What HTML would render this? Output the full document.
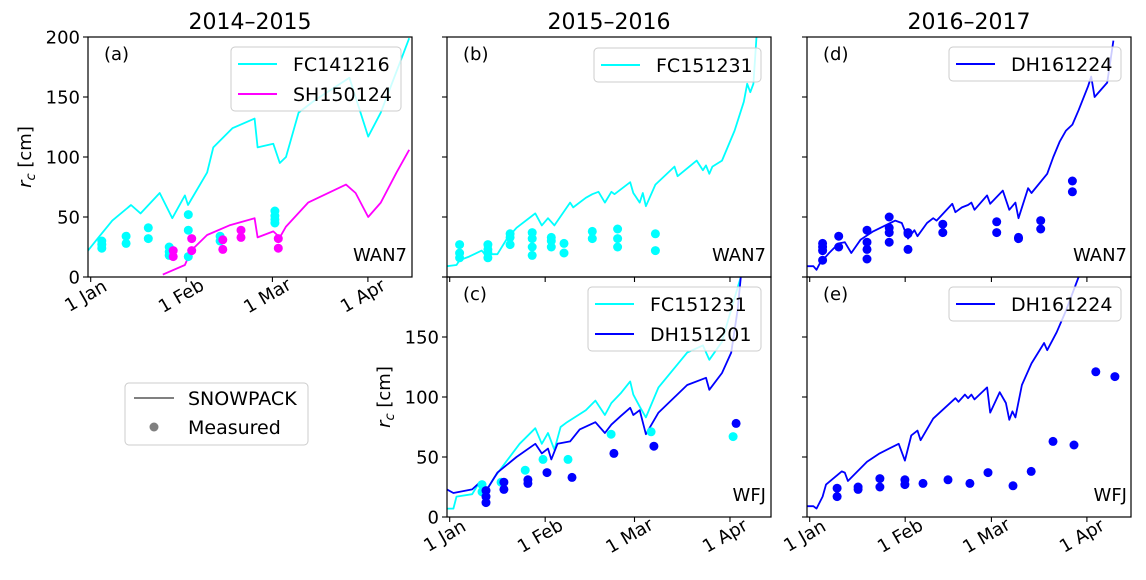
<!DOCTYPE html>
<html><head><meta charset="utf-8"><style>
html,body{margin:0;padding:0;background:#fff;}
svg{display:block;font-family:"DejaVu Sans","Liberation Sans",sans-serif;}
</style></head><body>
<svg id="chart" width="1146" height="580" viewBox="0 0 1146 580" xmlns="http://www.w3.org/2000/svg">
<defs>
<clipPath id="clipA"><rect x="88" y="37" width="323" height="240"/></clipPath>
<clipPath id="clipB"><rect x="447" y="37" width="324" height="240"/></clipPath>
<clipPath id="clipD"><rect x="807" y="37" width="324" height="240"/></clipPath>
<clipPath id="clipC"><rect x="447" y="277" width="324" height="240"/></clipPath>
<clipPath id="clipE"><rect x="807" y="277" width="324" height="240"/></clipPath>
</defs>
<g id="root"></g>
</svg>
<script>
// ---- data (x = days since 1 Jan, y = r_c in cm) ----
const tickDays1415 = [0, 31, 59, 90];
const tickDays1516 = [0, 31, 60, 91];
const tickDays1617 = [0, 31, 59, 90];
const tickLabelsX = ["1 Jan", "1 Feb", "1 Mar", "1 Apr"];
const tickValsY = [0, 50, 100, 150, 200];
const tickLabelsYTop = ["0", "50", "100", "150", "200"];
const tickLabelsYBot = ["0", "50", "100", "150", ""];

// (a) 2014-2015 WAN7
const aFcDays = [-1.2,1.9,7,13.1,16.2,22.4,26.5,30.6,31.6,37.8,39.8,46,53.2,54.2,59.3,61.4,63.4,67.5,72.6,84,90.1,94.2,100.3,103.4];
const aFcVals = [21,31,47,60,53,70,49,68,60,87,108,124,132,108,111,95,100,137,147,166,117,137,178,199];
const aShDays = [23.4,30.6,32.6,37.8,45,53.2,54.2,59.3,61.4,63.4,70.6,82.9,86,90.1,94.2,99.3,103.4];
const aShVals = [2,10,22,35,43,49,33,38,33,42,62,77,70,50,62,87,106];
const aFcPtDays = [3.6,3.6,3.6,11.5,11.5,18.7,18.7,25.5,25.5,25.5,31.7,31.7,31.7,42,42,59.8,59.8,59.8,59.8];
const aFcPtVals = [24,27,30,28,34,32,41,18,21,25,17,39,52,30,34,45,48,51,55];
const aShPtDays = [26.8,26.8,32.8,32.8,42.9,42.9,48.8,48.8,60.9,60.9];
const aShPtVals = [22,17,32,22,31,23,39,33,32,24];

// (b) 2015-2016 WAN7
const bFcDays = [-0.9,2.2,3.2,6.3,10.4,11.4,15.5,18.6,21.7,27.8,29.9,31.9,34,39.1,40.1,44.2,46.3,48.3,50.4,52.5,53.5,58.6,59.6,61.7,62.7,63.7,66.8,73,74,80.2,82.2,83.2,84.3,85.3,88.4,92.5,95.5,96.6,97.6,98.6,99.6];
const bFcVals = [9,10,14,17,22,19,19,32,41,53,43,49,43,62,58,66,69,71,62,71,69,79,70,62,70,59,77,92,84,97,89,93,86,92,97,122,146,161,154,161,200];
const bPtDays = [3.2,3.2,3.2,12.4,12.4,12.4,12.4,19.6,19.6,19.6,26.8,26.8,26.8,26.8,33,33,33,37.1,37.1,46.3,46.3,54.5,54.5,54.5,66.8,66.8];
const bPtVals = [27,20,16,27,23,20,16,36,33,27,37,32,25,18,33,30,25,28,20,38,32,40,32,25,36,22];

// (d) 2016-2017 WAN7
const dDhDays = [-0.9,1.2,2.2,3.2,6.3,9.4,11.4,13.5,16.5,20.6,27.8,29.9,31.9,34,35,38.1,40.1,41.2,46.3,47.3,49.4,51.4,52.5,53.5,57.6,58.6,62.7,64.8,66.8,67.8,70.9,72,77.1,79.1,81.2,83.2,85.3,87.3,90.4,91.4,92.5,96.6,98.6];
const dDhVals = [9,9,6,11,20,28,29,20,31,38,47,45,32,39,34,45,49,47,61,54,58,60,62,56,68,61,72,56,62,49,74,70,86,100,113,122,127,139,159,167,150,162,197];
const dPtDays = [4.2,4.2,4.2,4.2,9.4,9.4,18.6,18.6,18.6,18.6,25.8,25.8,25.8,25.8,31.9,31.9,31.9,43.2,43.2,60.7,60.7,67.8,67.8,75,75,85.3,85.3];
const dPtVals = [28,25,22,14,34,25,39,29,23,15,50,41,37,29,37,36,23,44,37,46,37,33,32,47,40,80,71];

// (c) 2015-2016 WFJ
const cFcDays = [-0.9,1.2,2.2,7.3,9.4,11.4,14.5,22.7,27.8,29.9,31.9,34,36,38.1,44.2,47.3,50.4,52.5,55.5,58.6,59.6,61.7,63.7,67.8,77.1,82.2,84.3,88.4,91.4,94.5];
const cFcVals = [7,7,17,19,28,20,33,61,74,61,70,56,75,79,89,97,85,95,103,113,102,92,83,108,137,143,131,146,173,200];
const cDhDays = [-0.9,1.2,7.3,9.4,11.4,15.5,21.7,27.8,29.9,31.9,33,35,39.1,42.2,47.3,50.4,52.5,55.5,58.6,59.6,61.7,63.7,67.8,77.1,83.2,84.3,88.4,91.4,93.5,94.5];
const cDhVals = [23,20,23,28,20,37,50,61,53,57,48,61,63,73,79,70,77,84,91,85,89,69,87,110,116,106,120,137,173,200];
const cFcPtDays = [10.5,10.5,16.7,24.5,30.3,38.4,52.4,65.4,92];
const cFcPtVals = [27,21,29,39,48,48,69,71,67];
const cDhPtDays = [11.8,11.8,11.8,17.6,17.6,25.4,25.4,31.6,39.7,53.3,66.3,93];
const cDhPtVals = [22,17,12,29,23,31,28,37,33,53,59,78];

// (e) 2016-2017 WFJ
const eDhDays = [-0.9,1.2,2.2,4.2,5.3,10.4,11.4,12.4,18.6,22.7,28.9,30.9,33,35,36,40.1,47.3,48.3,50.4,51.4,52.5,53.5,57.6,58.6,61.7,63.7,64.8,65.8,66.8,68.9,72,76.1,77.1,80.2,83.2,87.3];
const eDhVals = [9,9,7,17,27,38,37,30,46,53,61,47,68,72,64,82,99,96,102,99,102,98,108,87,104,95,81,88,83,110,128,145,139,154,172,200];
const ePtDays = [8.9,8.9,15.7,15.7,22.8,22.8,30.9,30.9,36.8,44.9,52,57.9,66,71.9,79,85.8,92.9,99.1];
const ePtVals = [24,17,25,23,32,25,31,27,28,31,28,37,26,38,63,60,121,117];

// ---- rendering ----
const NS = "http://www.w3.org/2000/svg";
const root = document.getElementById("root");
const PXD = 3.08, PXV = 1.2;
function mk(tag, attrs, parent) {
  const e = document.createElementNS(NS, tag);
  for (const k in attrs) e.setAttribute(k, attrs[k]);
  (parent || root).appendChild(e);
  return e;
}
function panel(left, top, clip) {
  const x0 = left + 2.7;
  return {
    left: left, top: top, w: 324, h: 240, clip: clip,
    sx: d => x0 + d * PXD,
    sy: v => top + 240 - v * PXV
  };
}
const P = {
  a: panel(88, 37, "clipA"),
  b: panel(447, 37, "clipB"),
  d: panel(807, 37, "clipD"),
  c: panel(447, 277, "clipC"),
  e: panel(807, 277, "clipE")
};

function drawLine(p, days, vals, color, name) {
  let dstr = "";
  for (let i = 0; i < days.length; i++) dstr += (i ? "L" : "M") + p.sx(days[i]).toFixed(1) + "," + p.sy(vals[i]).toFixed(1);
  const el = mk("path", {d: dstr, fill: "none", stroke: color, "stroke-width": 1.8, "stroke-linejoin": "round", "clip-path": "url(#" + p.clip + ")"});
  
  
}
function drawPts(p, days, vals, color, name) {
  const g = mk("g", {"clip-path": "url(#" + p.clip + ")"});
  
  
  for (let i = 0; i < days.length; i++) {
    const c = mk("circle", {cx: p.sx(days[i]).toFixed(1), cy: p.sy(vals[i]).toFixed(1), r: 4.5, fill: color}, g);
    
    
  }
}
function frame(p, name) {
  const r = mk("rect", {x: p.left, y: p.top, width: p.w, height: p.h, fill: "none", stroke: "#000", "stroke-width": 1.2});
  
  
}
function yAxis(p, labels, name) {
  const g = mk("g", {});
  
  
  for (let i = 0; i < tickValsY.length; i++) {
    const y = p.sy(tickValsY[i]);
    mk("line", {x1: p.left - 5, x2: p.left, y1: y, y2: y, stroke: "#000", "stroke-width": 1.1}, g);
    if (labels && labels[i]) {
      const t = mk("text", {x: p.left - 8, y: y + 6.5, "text-anchor": "end", "font-size": 18}, g);
      t.textContent = labels[i];
    }
  }
}
function xAxis(p, ticks, labels, name) {
  const g = mk("g", {});
  
  
  const yb = p.top + p.h;
  for (let i = 0; i < ticks.length; i++) {
    const x = p.sx(ticks[i]);
    mk("line", {x1: x, x2: x, y1: yb, y2: yb + 5, stroke: "#000", "stroke-width": 1.1}, g);
    if (labels) {
      const tx = x - 2, ty = yb + 24;
      const t = mk("text", {x: tx, y: ty, "text-anchor": "middle", "font-size": 18, transform: "rotate(-30 " + tx + " " + ty + ")"}, g);
      t.textContent = labels[i];
    }
  }
}
function txt(x, y, s, size, anchor, name) {
  const t = mk("text", {x: x, y: y, "font-size": size, "text-anchor": anchor || "start"});
  t.textContent = s;
  
  
  return t;
}
function legend(x, y, w, entries, name) {
  const g = mk("g", {});
  
  
  const h = 4 + entries.length * 30;
  mk("rect", {x: x, y: y, width: w, height: h, rx: 4, fill: "rgba(255,255,255,0.8)", stroke: "#cccccc", "stroke-width": 1}, g);
  entries.forEach((en, i) => {
    const cy = y + 17 + i * 30;
    const ln = mk("line", {x1: x + 7, x2: x + 46, y1: cy, y2: cy, stroke: en[1], "stroke-width": 2}, g);
    
    
    const t = mk("text", {x: x + 62, y: cy + 7, "font-size": 19}, g);
    t.textContent = en[0];
    
    
  });
}

// panel (a)
drawLine(P.a, aFcDays, aFcVals, "#00ffff", "fc141216-line");
drawLine(P.a, aShDays, aShVals, "#ff00ff", "sh150124-line");
drawPts(P.a, aFcPtDays, aFcPtVals, "#00ffff", "fc141216-measured");
drawPts(P.a, aShPtDays, aShPtVals, "#ff00ff", "sh150124-measured");
frame(P.a, "panel-a");
yAxis(P.a, tickLabelsYTop, "panel-a-y-axis");
xAxis(P.a, tickDays1415, tickLabelsX, "panel-a-x-axis");
legend(231, 47, 170, [["FC141216", "#00ffff"], ["SH150124", "#ff00ff"]], "panel-a-legend");
txt(104, 60, "(a)", 18, "start", "panel-a-label");
txt(407, 261, "WAN7", 18, "end", "panel-a-site");

// panel (b)
drawLine(P.b, bFcDays, bFcVals, "#00ffff", "fc151231-line");
drawPts(P.b, bPtDays, bPtVals, "#00ffff", "fc151231-measured");
frame(P.b, "panel-b");
yAxis(P.b, null, "panel-b-y-axis");
xAxis(P.b, tickDays1516, null, "panel-b-x-axis");
legend(594, 48, 167, [["FC151231", "#00ffff"]], "panel-b-legend");
txt(463, 60, "(b)", 18, "start", "panel-b-label");
txt(766, 261, "WAN7", 18, "end", "panel-b-site");

// panel (d)
drawLine(P.d, dDhDays, dDhVals, "#0000ff", "dh161224-line");
drawPts(P.d, dPtDays, dPtVals, "#0000ff", "dh161224-measured");
frame(P.d, "panel-d");
yAxis(P.d, null, "panel-d-y-axis");
xAxis(P.d, tickDays1617, null, "panel-d-x-axis");
legend(949, 47, 172, [["DH161224", "#0000ff"]], "panel-d-legend");
txt(823, 60, "(d)", 18, "start", "panel-d-label");
txt(1127, 261, "WAN7", 18, "end", "panel-d-site");

// panel (c)
drawLine(P.c, cFcDays, cFcVals, "#00ffff", "fc151231-wfj-line");
drawLine(P.c, cDhDays, cDhVals, "#0000ff", "dh151201-line");
drawPts(P.c, cFcPtDays, cFcPtVals, "#00ffff", "fc151231-wfj-measured");
drawPts(P.c, cDhPtDays, cDhPtVals, "#0000ff", "dh151201-measured");
frame(P.c, "panel-c");
yAxis(P.c, tickLabelsYBot, "panel-c-y-axis");
xAxis(P.c, tickDays1516, tickLabelsX, "panel-c-x-axis");
legend(588, 287, 173, [["FC151231", "#00ffff"], ["DH151201", "#0000ff"]], "panel-c-legend");
txt(463, 300, "(c)", 18, "start", "panel-c-label");
txt(766, 501, "WFJ", 18, "end", "panel-c-site");

// panel (e)
drawLine(P.e, eDhDays, eDhVals, "#0000ff", "dh161224-wfj-line");
drawPts(P.e, ePtDays, ePtVals, "#0000ff", "dh161224-wfj-measured");
frame(P.e, "panel-e");
yAxis(P.e, null, "panel-e-y-axis");
xAxis(P.e, tickDays1617, tickLabelsX, "panel-e-x-axis");
legend(949, 287, 172, [["DH161224", "#0000ff"]], "panel-e-legend");
txt(823, 300, "(e)", 18, "start", "panel-e-label");
txt(1127, 501, "WFJ", 18, "end", "panel-e-site");

// titles
txt(250, 29, "2014–2015", 22, "middle", "title-2014-2015");
txt(609, 29, "2015–2016", 22, "middle", "title-2015-2016");
txt(969, 29, "2016–2017", 22, "middle", "title-2016-2017");

// y axis titles
function ytitle(x, y, name) {
  const t = mk("text", {x: x, y: y, "font-size": 18, "text-anchor": "middle", transform: "rotate(-90 " + x + " " + y + ")"});
  
  
  const a = mk("tspan", {"font-style": "italic"}, t); a.textContent = "r";
  const b = mk("tspan", {"font-style": "italic", "font-size": 13, dy: 4}, t); b.textContent = "c";
  const c = mk("tspan", {dy: -4}, t); c.textContent = " [cm]";
}
ytitle(31, 157, "y-axis-title-top");
ytitle(390, 397, "y-axis-title-bottom");

// global legend
(function () {
  const g = mk("g", {});
  
  
  mk("rect", {x: 125, y: 383, width: 183, height: 62, rx: 4, fill: "#fff", stroke: "#cccccc", "stroke-width": 1}, g);
  mk("line", {x1: 134, x2: 174, y1: 398, y2: 398, stroke: "#808080", "stroke-width": 2}, g);
  mk("circle", {cx: 154, cy: 427, r: 4.5, fill: "#808080"}, g);
  const t1 = mk("text", {x: 188, y: 405, "font-size": 19}, g); t1.textContent = "SNOWPACK";
  
  
  const t2 = mk("text", {x: 188, y: 434, "font-size": 19}, g); t2.textContent = "Measured";
  
  
})();
</script>
</body></html>
